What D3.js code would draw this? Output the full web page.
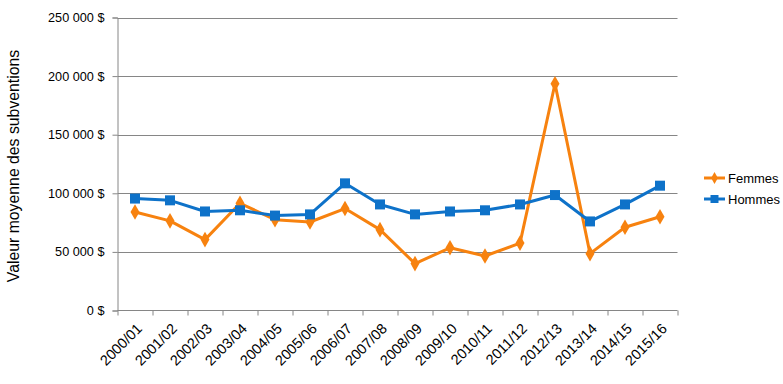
<!DOCTYPE html>
<html>
<head>
<meta charset="utf-8">
<script src="https://cdn.jsdelivr.net/npm/d3@7"></script>
<style>
body { margin: 0; background: #fff; }
svg text { font-family: "Liberation Sans", Arial, sans-serif; fill: #000; }
</style>
</head>
<body>
<svg id="myGraph" width="783" height="384"></svg>
<script>
// données
var annees = ["2000/01","2001/02","2002/03","2003/04","2004/05","2005/06","2006/07","2007/08",
              "2008/09","2009/10","2010/11","2011/12","2012/13","2013/14","2014/15","2015/16"];
var femmes = [84000, 76500, 60500, 91500, 77500, 75500, 87000, 69000,
              40000, 53500, 46500, 57500, 193500, 48500, 71000, 80000];
var hommes = [95500, 94000, 84500, 85500, 81000, 82000, 108500, 90500,
              82000, 84500, 85500, 90500, 98500, 76000, 90500, 106500];
var yTicks = [0, 50000, 100000, 150000, 200000, 250000];

var series = [
  {nom: "Femmes", valeurs: femmes, couleur: "#F7820F", marque: d3.symbolDiamond},
  {nom: "Hommes", valeurs: hommes, couleur: "#0E72C9", marque: d3.symbolSquare}
];

var svg = d3.select("#myGraph");
var mLeft = 117.5, mRight = 677.5, mTop = 17.5, mBottom = 310.5;

var x = d3.scaleBand().domain(annees).range([mLeft, mRight]);
var y = d3.scaleLinear().domain([0, 250000]).range([mBottom, mTop]);

var fmt = function(d){ return d3.format(",")(d).replace(/,/g, " ") + " $"; };

// grille
svg.append("g").selectAll("line").data(yTicks.filter(function(d){ return d > 0; }))
  .enter().append("line")
  .attr("x1", mLeft).attr("x2", mRight)
  .attr("y1", function(d){ return Math.round(y(d)) + 0.5; })
  .attr("y2", function(d){ return Math.round(y(d)) + 0.5; })
  .attr("stroke", "#868686").attr("stroke-width", 1);

// axe y
var gy = svg.append("g").attr("transform", "translate(" + mLeft + ",0)")
  .call(d3.axisLeft(y).tickValues(yTicks).tickSize(5).tickPadding(8).tickFormat(fmt));
gy.select(".domain").attr("stroke", "#868686");
gy.selectAll(".tick line").attr("stroke", "#868686");
gy.selectAll("text").attr("font-size", "12.7px").attr("font-family", "Liberation Sans, Arial, sans-serif");

// axe x avec graduations aux limites des catégories
var gx = svg.append("g").attr("transform", "translate(0," + mBottom + ")");
gx.append("line").attr("x1", mLeft).attr("x2", mRight).attr("stroke", "#868686");
gx.selectAll(".tk").data(d3.range(annees.length + 1)).enter().append("line")
  .attr("x1", function(i){ return Math.round(mLeft + i * x.step()) ; })
  .attr("x2", function(i){ return Math.round(mLeft + i * x.step()) ; })
  .attr("y1", 0).attr("y2", 5).attr("stroke", "#868686");
gx.selectAll(".lbl").data(annees).enter().append("text")
  .attr("transform", function(d){
    return "translate(" + (x(d) + x.bandwidth() / 2 + 8) + ",19) rotate(-45)";
  })
  .attr("text-anchor", "end")
  .attr("font-size", "14.5px")
  .text(function(d){ return d; });

// titre axe y
svg.append("text")
  .attr("transform", "translate(19,166) rotate(-90)")
  .attr("text-anchor", "middle")
  .attr("font-size", "15.8px")
  .text("Valeur moyenne des subventions");

var ligne = d3.line()
  .x(function(d, i){ return x(annees[i]) + x.bandwidth() / 2; })
  .y(function(d){ return y(d); });

series.forEach(function(s){
  var g = svg.append("g");
  g.append("path").datum(s.valeurs)
    .attr("d", ligne).attr("fill", "none")
    .attr("stroke", s.couleur).attr("stroke-width", 3)
    .attr("stroke-linejoin", "round");
  g.selectAll("path.m").data(s.valeurs).enter().append("path")
    .attr("class", "m")
    .attr("transform", function(d, i){
      return "translate(" + (x(annees[i]) + x.bandwidth() / 2) + "," + y(d) + ")";
    })
    .attr("d", d3.symbol().type(s.marque).size(s.marque === d3.symbolSquare ? 100 : 70))
    .attr("fill", s.couleur);
});

// légende
var leg = svg.append("g").selectAll("g").data(series).enter().append("g")
  .attr("transform", function(d, i){ return "translate(704," + (178 + i * 21) + ")"; });
leg.append("line").attr("x1", 0).attr("x2", 21)
  .attr("stroke", function(d){ return d.couleur; }).attr("stroke-width", 3);
leg.append("path").attr("transform", "translate(10.5,0)")
  .attr("d", function(d){
    return d3.symbol().type(d.marque).size(d.marque === d3.symbolSquare ? 64 : 40)();
  })
  .attr("fill", function(d){ return d.couleur; });
leg.append("text").attr("x", 24).attr("y", 4.5).attr("font-size", "13px")
  .text(function(d){ return d.nom; });
</script>
</body>
</html>
